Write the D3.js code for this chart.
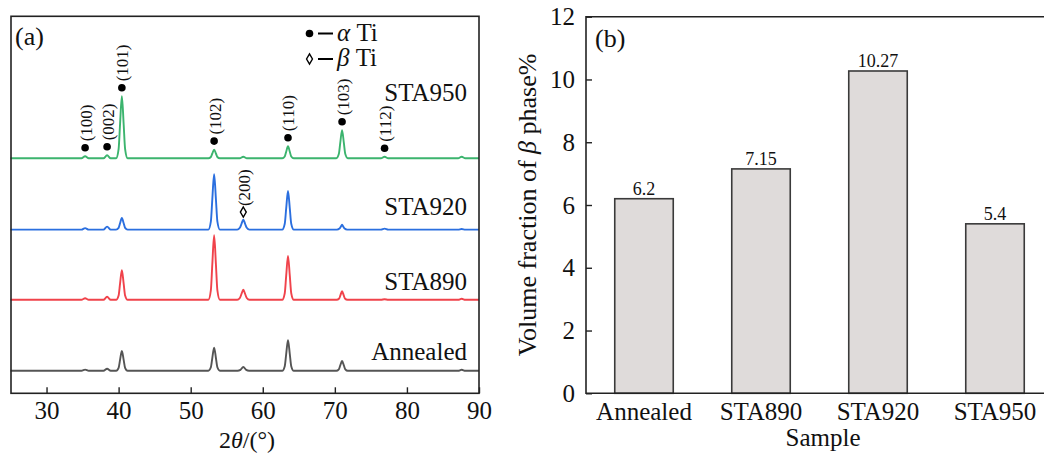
<!DOCTYPE html>
<html>
<head>
<meta charset="utf-8">
<script src="https://cdn.jsdelivr.net/npm/d3@7/dist/d3.min.js"></script>
<style>
  html, body { margin: 0; padding: 0; background: #fff; }
  svg { display: block; }
  svg text { font-family: "Times New Roman", Times, "Liberation Serif", serif; }
</style>
</head>
<body>
<svg id="fig" width="1044" height="453"></svg>
<script>
// ---------- (a) XRD patterns: [2θ (deg), intensity (a.u.)] ----------
const xrdSamples = ["Annealed", "STA890", "STA920", "STA950"];
const xrdColors = ["#555555", "#f0434b", "#2b6fdf", "#3cb46e"];
const xrdOffsets = [22.5, 93.5, 163.7, 235];

const annealedPattern = [
  [25,0],[34.85,0],[35.35,1.2],[35.85,0],[37.9,0],[38.4,2],[38.9,0],
  [39.65,0],[40.0,3],[40.2,10.9],[40.45,19.8],[40.7,10.9],[40.9,3],[41.25,0],
  [52.45,0],[52.8,3.5],[53.0,12.8],[53.25,23.2],[53.5,12.8],[53.7,3.5],[54.05,0],
  [56.5,0],[56.9,0.9],[57.3,3.8],[57.7,0.9],[58.1,0],
  [62.7,0],[63.05,4.6],[63.25,16.8],[63.5,30.5],[63.75,16.8],[63.95,4.6],[64.3,0],
  [70.2,0],[70.55,1.5],[70.75,5.4],[71.0,9.8],[71.25,5.4],[71.45,1.5],[71.8,0],
  [87.1,0],[87.6,1],[88.1,0],[90,0]
];
const sta890Pattern = [
  [25,0],[34.85,0],[35.35,1.5],[35.85,0],[37.9,0],[38.4,3],[38.9,0],
  [39.65,0],[40.0,4.4],[40.2,16.2],[40.45,29.5],[40.7,16.2],[40.9,4.4],[41.25,0],
  [52.45,0],[52.8,9.7],[53.0,35.5],[53.25,64.5],[53.5,35.5],[53.7,9.7],[54.05,0],
  [56.45,0],[56.82,1.8],[57.05,5.9],[57.3,10.2],[57.55,5.9],[57.78,1.8],[58.15,0],
  [62.7,0],[63.05,6.6],[63.25,24.1],[63.5,43.8],[63.75,24.1],[63.95,6.6],[64.3,0],
  [70.25,0],[70.6,1.3],[70.78,4.7],[71.0,8.5],[71.22,4.7],[71.4,1.3],[71.75,0],
  [76.4,0],[76.9,0.6],[77.4,0],
  [87.1,0],[87.6,1],[88.1,0],[90,0]
];
const sta920Pattern = [
  [25,0],[34.85,0],[35.35,1.5],[35.85,0],[37.9,0],[38.4,3],[38.9,0],
  [39.65,0],[40.0,1.7],[40.2,6.4],[40.45,11.6],[40.7,6.4],[40.9,1.7],[41.25,0],
  [52.45,0],[52.8,8.3],[53.0,30.4],[53.25,55.3],[53.5,30.4],[53.7,8.3],[54.05,0],
  [56.45,0],[56.82,1.8],[57.05,5.8],[57.3,10],[57.55,5.8],[57.78,1.8],[58.15,0],
  [62.7,0],[63.05,5.8],[63.25,21.2],[63.5,38.6],[63.75,21.2],[63.95,5.8],[64.3,0],
  [70.3,0],[70.65,1],[70.82,2.8],[71.0,5],[71.18,2.8],[71.35,1],[71.7,0],
  [76.4,0],[76.9,1],[77.4,0],
  [87.1,0],[87.6,0.6],[88.1,0],[90,0]
];
const sta950Pattern = [
  [25,0],[34.85,0],[35.35,2],[35.85,0],[37.9,0],[38.4,3],[38.9,0],
  [39.65,0],[40.0,9.3],[40.2,34.1],[40.45,62],[40.7,34.1],[40.9,9.3],[41.25,0],
  [52.45,0],[52.8,1.3],[53.0,4.8],[53.25,8.7],[53.5,4.8],[53.7,1.3],[54.05,0],
  [56.8,0],[57.3,1.5],[57.8,0],
  [62.7,0],[63.05,1.8],[63.25,6.6],[63.5,12],[63.75,6.6],[63.95,1.8],[64.3,0],
  [70.2,0],[70.55,4.2],[70.75,15.4],[71.0,28],[71.25,15.4],[71.45,4.2],[71.8,0],
  [76.4,0],[76.9,1.5],[77.4,0],
  [87.1,0],[87.6,1.5],[88.1,0],[90,0]
];
const xrdPatterns = [annealedPattern, sta890Pattern, sta920Pattern, sta950Pattern];

// Peak indexing
const alphaPeakPos = [35.35, 38.4, 40.45, 53.25, 63.5, 71.0, 76.9];
const alphaPeakHkl = ["(100)", "(002)", "(101)", "(102)", "(110)", "(103)", "(112)"];
const betaPeakPos = [57.3];
const betaPeakHkl = ["(200)"];

const xrdTicks = [30, 40, 50, 60, 70, 80, 90];

// ---------- (b) β phase volume fraction ----------
const barCategories = ["Annealed", "STA890", "STA920", "STA950"];
const betaFraction = [6.2, 7.15, 10.27, 5.4];
const barTicks = [0, 2, 4, 6, 8, 10, 12];

const svg = d3.select("#fig");
const ink = "#111";
const serif = '"Times New Roman", Times, "Liberation Serif", serif';

// ===== Panel (a) =====
const xa = d3.scaleLinear().domain([25, 90]).range([10.5, 479]);
const ya = d3.scaleLinear().domain([0, 377]).range([393.3, 16.3]);
const ga = svg.append("g");

const line = d3.line()
  .x(d => xa(d[0]))
  .y(d => d[1])
  .curve(d3.curveMonotoneX);

xrdPatterns.forEach((pat, i) => {
  const pts = pat.map(p => [p[0], ya(p[1] + xrdOffsets[i])]);
  ga.append("path")
    .attr("d", line(pts))
    .attr("fill", "none")
    .attr("stroke", xrdColors[i])
    .attr("stroke-width", 1.9)
    .attr("stroke-linejoin", "round");
});

// frame
ga.append("rect")
  .attr("x", 11).attr("y", 16.3)
  .attr("width", 468).attr("height", 377)
  .attr("fill", "none").attr("stroke", "#222").attr("stroke-width", 1.6);

// bottom axis with inward ticks
const axA = ga.append("g").attr("transform", "translate(0,393.3)")
  .call(d3.axisBottom(xa).tickValues(xrdTicks).tickSize(-6).tickPadding(8).tickFormat(d3.format("d")));
axA.select(".domain").remove();
axA.selectAll(".tick line").attr("stroke", "#222").attr("stroke-width", 1.4);
axA.selectAll(".tick text").attr("font-size", 25).attr("fill", ink)
  .attr("font-family", serif);

// x title
ga.append("text")
  .attr("x", 247).attr("y", 448)
  .attr("text-anchor", "middle").attr("font-size", 24).attr("fill", ink)
  .call(t => {
    t.append("tspan").text("2");
    t.append("tspan").attr("font-style", "italic").text("θ");
    t.append("tspan").text("/(°)");
  });

// panel tag
ga.append("text").attr("x", 15).attr("y", 45).attr("font-size", 26).attr("fill", ink).text("(a)");

// sample names
const sampleLabelY = [360, 290, 215, 101];
xrdSamples.forEach((s, i) => {
  ga.append("text")
    .attr("x", 467).attr("y", sampleLabelY[i])
    .attr("text-anchor", "end").attr("font-size", 25).attr("fill", ink)
    .text(s);
});

// peak top lookup
function peakTop(pat, pos) {
  return d3.max(pat.filter(p => Math.abs(p[0] - pos) < 0.3), p => p[1]);
}

const labelFont = 17;
// α markers on STA950
alphaPeakPos.forEach((pos, k) => {
  const h = peakTop(sta950Pattern, pos);
  const cx = xa(pos);
  const cy = ya(h + xrdOffsets[3]) - 8.5;
  ga.append("circle").attr("cx", cx).attr("cy", cy).attr("r", 3.8).attr("fill", "#000");
  ga.append("text")
    .attr("transform", `translate(${cx + 0.5},${cy - 6.5}) rotate(-90)`)
    .attr("dy", "0.35em")
    .attr("font-size", labelFont).attr("fill", ink)
    .text(alphaPeakHkl[k]);
});
// β markers on STA920
const diamond = d3.symbol().type(d3.symbolDiamond).size(30);
betaPeakPos.forEach((pos, k) => {
  const h = peakTop(sta920Pattern, pos);
  const cx = xa(pos);
  const cy = ya(h + xrdOffsets[2]) - 7.5;
  ga.append("path").attr("d", diamond())
    .attr("transform", `translate(${cx},${cy})`)
    .attr("fill", "#fff").attr("stroke", "#000").attr("stroke-width", 1.4);
  ga.append("text")
    .attr("transform", `translate(${cx + 0.5},${cy - 6}) rotate(-90)`)
    .attr("dy", "0.35em")
    .attr("font-size", labelFont).attr("fill", ink)
    .text(betaPeakHkl[k]);
});

// legend
const lg = ga.append("g");
lg.append("circle").attr("cx", 309.5).attr("cy", 33.5).attr("r", 3.8).attr("fill", "#000");
lg.append("line").attr("x1", 318).attr("x2", 333).attr("y1", 33.5).attr("y2", 33.5)
  .attr("stroke", "#000").attr("stroke-width", 2);
lg.append("text").attr("x", 337).attr("y", 40.5).attr("font-size", 25).attr("fill", ink)
  .call(t => {
    t.append("tspan").attr("font-style", "italic").text("α");
    t.append("tspan").text(" Ti");
  });
lg.append("path").attr("d", diamond())
  .attr("transform", "translate(309.5,59)")
  .attr("fill", "#fff").attr("stroke", "#000").attr("stroke-width", 1.4);
lg.append("line").attr("x1", 318).attr("x2", 333).attr("y1", 59).attr("y2", 59)
  .attr("stroke", "#000").attr("stroke-width", 2);
lg.append("text").attr("x", 337).attr("y", 65.5).attr("font-size", 25).attr("fill", ink)
  .call(t => {
    t.append("tspan").attr("font-style", "italic").text("β");
    t.append("tspan").text(" Ti");
  });

// ===== Panel (b) =====
const xb = d3.scaleBand().domain(barCategories).range([585.5, 1053.5])
  .paddingInner(0.5).paddingOuter(0.25);
const yb = d3.scaleLinear().domain([0, 12]).range([393.3, 16.7]);
const gb = svg.append("g");

gb.selectAll("rect.bar")
  .data(barCategories)
  .join("rect")
  .attr("class", "bar")
  .attr("x", d => xb(d))
  .attr("y", (d, i) => yb(betaFraction[i]))
  .attr("width", xb.bandwidth())
  .attr("height", (d, i) => yb(0) - yb(betaFraction[i]))
  .attr("fill", "#dfdbda")
  .attr("stroke", "#3a3a3a")
  .attr("stroke-width", 1.6);

gb.selectAll("text.val")
  .data(barCategories)
  .join("text")
  .attr("class", "val")
  .attr("x", d => xb(d) + xb.bandwidth() / 2)
  .attr("y", (d, i) => yb(betaFraction[i]) - 4)
  .attr("text-anchor", "middle")
  .attr("font-size", 18).attr("fill", ink)
  .text((d, i) => betaFraction[i]);

// left axis with inward ticks
const axBL = gb.append("g").attr("transform", "translate(586,0)")
  .call(d3.axisLeft(yb).tickValues(barTicks).tickSize(-6).tickPadding(11));
axBL.select(".domain").remove();
axBL.selectAll(".tick line").attr("stroke", "#222").attr("stroke-width", 1.4);
axBL.selectAll(".tick text").attr("font-size", 25).attr("fill", ink)
  .attr("font-family", serif);

// bottom axis (labels only)
const axBB = gb.append("g").attr("transform", "translate(0,393.3)")
  .call(d3.axisBottom(xb).tickSize(0).tickPadding(9));
axBB.select(".domain").remove();
axBB.selectAll(".tick text").attr("font-size", 25).attr("fill", ink)
  .attr("font-family", serif).attr("dy", "0.71em");

// frame lines (left, top, bottom)
gb.append("path")
  .attr("d", `M1044,16.7H586V393.3H1044`)
  .attr("fill", "none").attr("stroke", "#222").attr("stroke-width", 1.6);

// axis titles
gb.append("text")
  .attr("x", 823).attr("y", 446)
  .attr("text-anchor", "middle").attr("font-size", 25).attr("fill", ink)
  .text("Sample");
gb.append("text")
  .attr("transform", "translate(536,205) rotate(-90)")
  .attr("text-anchor", "middle").attr("font-size", 26).attr("fill", ink)
  .call(t => {
    t.append("tspan").text("Volume fraction of ");
    t.append("tspan").attr("font-style", "italic").text("β");
    t.append("tspan").text(" phase%");
  });

gb.append("text").attr("x", 595).attr("y", 47).attr("font-size", 26).attr("fill", ink).text("(b)");
</script>
</body>
</html>
